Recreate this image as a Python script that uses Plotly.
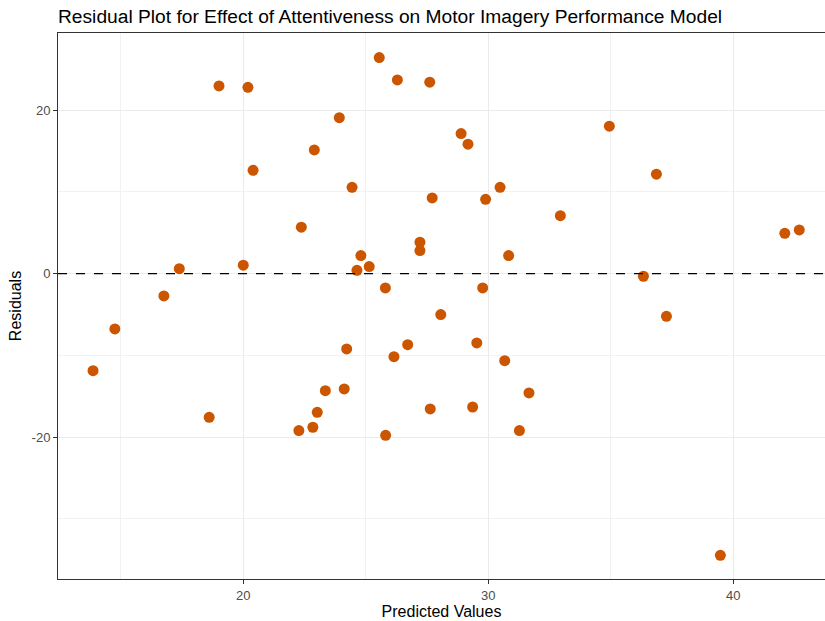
import plotly.graph_objects as go

# Fitted (predicted) values and residuals of the model
predicted = [
    19.01, 20.19, 20.40, 17.39, 20.00, 16.76, 14.76, 13.87, 18.61,
    25.55, 26.29, 27.61, 23.92, 22.90, 28.89, 29.17, 24.44, 27.71, 29.89,
    30.48, 22.37, 27.21, 27.21, 24.80, 30.83, 25.14, 24.64, 25.80, 29.77,
    28.06, 24.22, 26.71, 26.15, 29.53, 30.67, 23.35, 24.12, 23.02, 31.66,
    27.63, 29.36, 22.27, 22.84, 25.81, 31.27,
    34.94, 36.86, 32.94, 42.10, 42.69, 36.33, 37.27, 39.47,
]
residuals = [
    22.97, 22.80, 12.65, 0.61, 1.03, -2.73, -6.77, -11.87, -17.58,
    26.44, 23.71, 23.43, 19.09, 15.14, 17.14, 15.84, 10.57, 9.27, 9.10,
    10.57, 5.68, 3.84, 2.82, 2.21, 2.21, 0.86, 0.41, -1.75, -1.75,
    -5.01, -9.22, -8.69, -10.16, -8.48, -10.65, -14.32, -14.11, -16.97, -14.60,
    -16.56, -16.32, -19.21, -18.80, -19.78, -19.21,
    18.04, 12.17, 7.10, 4.94, 5.35, -0.32, -5.22, -34.47,
]

x_ticks = [20, 30, 40]
x_tick_labels = ["20", "30", "40"]
y_ticks = [-20, 0, 20]
y_tick_labels = ["-20", "0", "20"]

x_range = [12.44, 43.74]
y_range = [-37.37, 29.45]

FONT = "Liberation Sans, Arial, sans-serif"

fig = go.Figure()

fig.add_trace(go.Scatter(
    x=predicted,
    y=residuals,
    mode="markers",
    marker=dict(color="#CC5500", size=11, line=dict(width=0)),
    showlegend=False,
    hoverinfo="x+y",
))

# Reference line at zero residual
fig.add_hline(y=0, line=dict(color="black", width=1.3, dash="dash"))

axis_common = dict(
    showgrid=True,
    gridcolor="#EBEBEB",
    gridwidth=1,
    zeroline=False,
    ticks="outside",
    ticklen=4,
    tickwidth=1,
    tickcolor="#333333",
    tickfont=dict(family=FONT, size=13, color="#4D4D4D"),
    showline=True,
    linecolor="#333333",
    linewidth=1,
)

fig.update_xaxes(
    **axis_common,
    range=x_range,
    tickvals=x_ticks,
    ticktext=x_tick_labels,
    mirror=True,
    minor=dict(dtick=5, tick0=0, showgrid=True, gridcolor="#F2F2F2", gridwidth=1, ticks=""),
    title=dict(text="Predicted Values", standoff=4,
               font=dict(family=FONT, size=16, color="black")),
)
fig.update_yaxes(
    **axis_common,
    range=y_range,
    tickvals=y_ticks,
    ticktext=y_tick_labels,
    mirror=False,
    minor=dict(dtick=10, tick0=0, showgrid=True, gridcolor="#F2F2F2", gridwidth=1, ticks=""),
    title=dict(text="Residuals", standoff=6,
               font=dict(family=FONT, size=16, color="black")),
)

fig.update_layout(
    width=825,
    height=621,
    margin=dict(l=58, r=0, t=33, b=42),
    paper_bgcolor="white",
    plot_bgcolor="white",
    title=dict(
        text="Residual Plot for Effect of Attentiveness on Motor Imagery Performance Model",
        x=58 / 825, xanchor="left", xref="container",
        y=1 - 16 / 621, yanchor="middle", yref="container",
        font=dict(family=FONT, size=19.2, color="black"),
    ),
)

fig.write_html("out.html")
